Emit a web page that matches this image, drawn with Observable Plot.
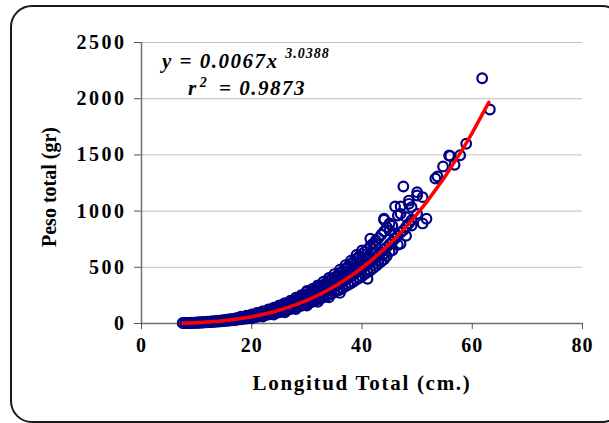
<!DOCTYPE html>
<html>
<head>
<meta charset="utf-8">
<script src="https://cdn.jsdelivr.net/npm/d3@7"></script>
<script src="https://cdn.jsdelivr.net/npm/@observablehq/plot@0.6"></script>
<style>
  html, body { margin: 0; padding: 0; background: #fff; overflow: hidden; }
  #wrap { position: relative; width: 609px; height: 423px; overflow: hidden; }
  #frame { position: absolute; left: 10px; top: 5px; width: 610px; height: 414px;
           border: 2px solid #1a1a1a; border-radius: 22px; box-sizing: content-box; }
  #chart { position: absolute; left: 0; top: 0; }
</style>
</head>
<body>
<div id="wrap">
  <div id="frame"></div>
  <div id="chart"></div>
</div>
<script>
// Observed points: total length (cm) and total weight (gr)
const lengthCm = [
  7.5,7.5, 8,8,8, 8.5,8.5, 9,9,9, 9.5,9.5, 10,10,10, 10.5,10.5,10.5, 11,11,11,
  11.5,11.5,11.5, 12,12,12, 12.5,12.5,12.5, 13,13,13, 13.5,13.5,13.5, 14,14,14,
  14.5,14.5,14.5, 15,15,15, 15.5,15.5,15.5, 16,16,16, 16.5,16.5,16.5, 17,17,17,
  17.5,17.5,17.5, 18,18,18, 18.5,18.5,18.5, 19,19,19, 19.5,19.5,19.5,
  20,20,20,20, 20.5,20.5,20.5, 21,21,21,21, 21.5,21.5,21.5, 22,22,22,22,
  22.5,22.5,22.5, 23,23,23,23, 23.5,23.5,23.5, 24,24,24,24, 24.5,24.5,24.5,
  25,25,25,25, 25.5,25.5,25.5, 26,26,26,26, 26.5,26.5,26.5, 27,27,27,27,
  27.5,27.5,27.5, 28,28,28,28,28, 28.5,28.5,28.5, 29,29,29,29, 29.5,29.5,29.5,
  30,30,30,30,30, 30.5,30.5,30.5, 31,31,31,31, 31.5,31.5,31.5, 32,32,32,32,32,
  32.5,32.5,32.5, 33,33,33,33, 33.5,33.5,33.5, 34,34,34,34,34, 34.5,34.5,34.5,
  35,35,35,35,35, 35.5,35.5,35.5, 36,36,36,36,36, 36.5,36.5,36.5, 37,37,37,37,37,
  37.5,37.5,37.5, 38,38,38,38,38, 38.5,38.5,38.5, 39,39,39,39,39, 39.5,39.5,39.5,
  40,40,40,40,40, 40.5,40.5,40.5, 41,41,41,41,41, 41.5,41.5,41.5,41.5, 42,42,42,42,
  42.5,42.5,42.5,42.5, 43,43,43,43, 43.5,43.5,43.5, 44,44,44,44,44,44,
  44.5,44.5,44.5, 45,45,45,45, 45.5,45.5,45.5, 46,46,46, 46.5,46.5,46.5,
  47,47,47,47, 47.5,47.5, 48,48,48, 48.5,48.5,48.5, 49,49,49, 50,50,50,
  51,51, 51.7, 53.3, 53.7, 54.7, 55.8, 56, 56.8, 57.8, 58.9, 61.8, 63.2,
  18,19,20,21,22,23,24,25,26,27,29,30,31,32,33,34,
  20,22,24,26,28,30,32,34,36
];
const weightGr = [
  3,5, 4,6,3, 4,6, 5,7,4, 6,8, 7,9,6, 8,11,7, 9,12,8,
  11,14,10, 12,16,11, 14,18,13, 15,20,14, 18,23,16, 19,26,18,
  22,28,20, 24,31,21, 27,34,24, 29,38,26, 33,41,29, 35,45,31,
  39,49,35, 42,53,37, 46,58,41, 50,63,44, 55,68,48,
  58,74,51,65, 63,80,55, 68,86,60,76, 73,92,64, 78,99,69,88,
  84,106,74, 90,114,79,100, 96,121,85, 102,130,90,115, 109,138,95,
  116,147,100,130, 123,156,107, 131,166,113,148, 139,176,120, 147,187,128,165,
  156,198,135, 165,210,142,185,230, 174,221,150, 184,234,158,205, 194,246,167,
  203,260,175,228,290, 214,272,184, 225,287,192,250, 237,300,202, 248,316,212,278,340,
  260,330,222, 272,345,233,305, 285,362,243, 298,380,255,335,405, 312,395,265,
  326,410,278,365,440, 340,428,290, 355,450,300,395,480, 370,468,315, 386,490,330,430,520,
  402,510,345, 420,530,358,465,560, 438,552,372, 455,575,390,505,610, 474,598,405,
  490,620,420,550,650, 510,640,440, 530,660,455,590,398, 550,690,470,754, 570,710,490,630,
  590,740,510,709, 615,760,530,560, 635,790,550, 660,820,923,932,570,620,
  680,857,600, 705,827,890,640, 730,870,650, 756,1041,800, 780,961,700,
  810,709,976,1041, 830,1219, 860,946,780, 890,1094,1065, 920,1035,872, 976,1168,1139,
  1124,890, 932, 1290, 1308, 1397, 1495, 1490, 1412, 1497, 1599, 2182, 1904,
  60,70,82,95,110,126,142,162,182,204,252,282,308,334,372,402,
  46,62,80,100,128,160,192,232,272
];

// Potential trend line y = 0.0067 x^3.0388
const trendX = [7.5, 10, 12, 14, 16, 18, 20, 22, 24, 26, 28, 30, 32, 34, 36, 38, 40, 42, 44, 46, 48, 50, 52, 55, 58, 60, 63];
const trendY = [3.1, 7.3, 12.8, 20.4, 30.6, 43.7, 60.2, 80.5, 104.9, 133.8, 167.5, 206.4, 251.3, 302.3, 359.3, 423.6, 494.8, 573.4, 661, 756.3, 860.4, 974.8, 1098, 1302, 1530, 1696, 1967];

const xTicks = [0, 20, 40, 60, 80];
const yTicks = [0, 500, 1000, 1500, 2000, 2500];

const points = lengthCm.map((x, i) => ({x, y: weightGr[i]}));
const trend = trendX.map((x, i) => ({x, y: trendY[i]}));

const serif = "'Liberation Serif', 'Times New Roman', serif";
const fmt = d => String(d);

const chart = Plot.plot({
  width: 609,
  height: 423,
  marginLeft: 141,
  marginRight: 27,
  marginTop: 42,
  marginBottom: 100,
  style: {background: "transparent", fontFamily: serif, overflow: "visible"},
  x: {domain: [0, 80], ticks: xTicks, label: null},
  y: {domain: [0, 2500], ticks: yTicks, label: null},
  marks: [
    Plot.gridY(yTicks.filter(d => d > 0), {stroke: "#c0c0c0", strokeOpacity: 1, strokeWidth: 1}),
    Plot.ruleY([0], {stroke: "#707070", strokeWidth: 1.5}),
    Plot.ruleX([0], {stroke: "#707070", strokeWidth: 1.5}),
    Plot.axisX({ticks: xTicks, tickFormat: fmt, tickSize: 6, tickPadding: 8, stroke: "#555", fontSize: 20, fontWeight: "bold", fill: "#000", label: null}),
    Plot.axisY({ticks: yTicks, tickFormat: fmt, tickSize: 7, tickPadding: 8, stroke: "#555", fontSize: 20, fontWeight: "bold", fill: "#000", label: null}),
    Plot.dot(points, {x: "x", y: "y", r: 4.8, stroke: "#000080", strokeWidth: 2.2, fill: "none"}),
    Plot.line(trend, {x: "x", y: "y", stroke: "#ff0000", strokeWidth: 3.5, curve: "linear"})
  ]
});
document.getElementById("chart").appendChild(chart);

const svg = d3.select(chart);
// widen the tick labels a little, as in the reference
svg.selectAll("g[aria-label='y-axis tick label']").style("letter-spacing", "2.5px").attr("letter-spacing", "2.5px");
svg.selectAll("g[aria-label='x-axis tick label']").style("letter-spacing", "1px").attr("letter-spacing", "1px");

// axis titles
svg.append("text")
  .attr("x", 362).attr("y", 390)
  .attr("text-anchor", "middle")
  .style("font-family", serif).style("font-size", "21px").style("font-weight", "bold")
  .style("letter-spacing", "1.7px")
  .text("Longitud Total (cm.)");
svg.append("text")
  .attr("transform", "translate(56,187) rotate(-90)")
  .attr("text-anchor", "middle")
  .style("font-family", serif).style("font-size", "20px").style("font-weight", "bold")
  .text("Peso total (gr)");

// equation annotation
const eq = svg.append("text")
  .attr("x", 162).attr("y", 68)
  .attr("text-anchor", "start")
  .style("font-family", serif).style("font-size", "21px").style("font-weight", "bold").style("font-style", "italic")
  .style("letter-spacing", "1.5px")
  .attr("xml:space", "preserve");
eq.append("tspan").text("y = 0.0067x ");
eq.append("tspan").attr("dy", -10).style("font-size", "14px").style("letter-spacing", "1px").text("3.0388");

const r2 = svg.append("text")
  .attr("x", 188).attr("y", 95)
  .attr("text-anchor", "start")
  .style("font-family", serif).style("font-size", "21px").style("font-weight", "bold").style("font-style", "italic")
  .style("letter-spacing", "1.5px")
  .attr("xml:space", "preserve");
r2.append("tspan").text("r");
r2.append("tspan").attr("dy", -8).attr("dx", 2).style("font-size", "14px").text("2");
r2.append("tspan").attr("dy", 8).attr("dx", 4).text(" = 0.9873");
</script>
</body>
</html>
